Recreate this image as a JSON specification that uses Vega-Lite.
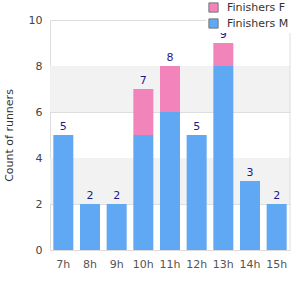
{
  "$schema": "https://vega.github.io/schema/vega-lite/v6.json",
  "width": 240,
  "height": 230,
  "autosize": {"type": "none"},
  "padding": {"left": 50, "top": 20, "right": 10, "bottom": 50},
  "background": "white",
  "config": {
    "view": {"stroke": null},
    "font": "DejaVu Sans",
    "axis": {"labelFont": "DejaVu Sans", "titleFont": "DejaVu Sans"}
  },
  "datasets": {
    "runners": [
      {"hour": "7h", "group": "Finishers M", "count": 5},
      {"hour": "8h", "group": "Finishers M", "count": 2},
      {"hour": "9h", "group": "Finishers M", "count": 2},
      {"hour": "10h", "group": "Finishers M", "count": 5},
      {"hour": "10h", "group": "Finishers F", "count": 2},
      {"hour": "11h", "group": "Finishers M", "count": 6},
      {"hour": "11h", "group": "Finishers F", "count": 2},
      {"hour": "12h", "group": "Finishers M", "count": 5},
      {"hour": "13h", "group": "Finishers M", "count": 8},
      {"hour": "13h", "group": "Finishers F", "count": 1},
      {"hour": "14h", "group": "Finishers M", "count": 3},
      {"hour": "15h", "group": "Finishers M", "count": 2}
    ],
    "totals": [
      {"hour": "7h", "total": 5},
      {"hour": "8h", "total": 2},
      {"hour": "9h", "total": 2},
      {"hour": "10h", "total": 7},
      {"hour": "11h", "total": 8},
      {"hour": "12h", "total": 5},
      {"hour": "13h", "total": 9},
      {"hour": "14h", "total": 3},
      {"hour": "15h", "total": 2}
    ],
    "bands": [
      {"lo": 2, "hi": 4},
      {"lo": 6, "hi": 8}
    ]
  },
  "layer": [
    {
      "data": {"name": "bands"},
      "mark": {"type": "rect", "color": "#f2f2f2"},
      "encoding": {
        "y": {"field": "lo", "type": "quantitative", "scale": {"domain": [0, 10]}},
        "y2": {"field": "hi"}
      }
    },
    {
      "data": {"name": "runners"},
      "mark": {"type": "bar"},
      "encoding": {
        "x": {
          "field": "hour", "type": "nominal",
          "sort": ["7h","8h","9h","10h","11h","12h","13h","14h","15h"],
          "scale": {"paddingInner": 0.25, "paddingOuter": 0.125},
          "axis": {"title": null, "labelAngle": 0, "labelColor": "#555", "labelFontSize": 11, "ticks": false, "domainColor": "#ddd", "labelPadding": 8}
        },
        "y": {
          "field": "count", "type": "quantitative", "aggregate": "sum", "stack": "zero",
          "scale": {"domain": [0, 10]},
          "axis": {"title": "Count of runners", "titleColor": "#333", "titleFontWeight": "normal", "titleFontSize": 11, "titlePadding": 14,
                   "values": [0,2,4,6,8,10], "labelColor": "#444", "labelFontSize": 11, "ticks": false, "labelPadding": 8,
                   "gridColor": "#ddd", "domainColor": "#ddd"}
        },
        "color": {
          "field": "group", "type": "nominal",
          "scale": {"domain": ["Finishers F", "Finishers M"], "range": ["#f383bb", "#60a8f4"]},
          "legend": {"title": null, "orient": "none", "legendX": 156, "legendY": -20, "fillColor": "white", "padding": 2,
                     "symbolType": "square", "symbolSize": 85, "symbolStrokeColor": "#777", "symbolStrokeWidth": 1, "symbolOpacity": 1,
                     "labelFontSize": 11, "labelColor": "#333", "rowPadding": 1, "labelOffset": 8}
        },
        "order": {"field": "group", "sort": "descending"}
      }
    },
    {
      "data": {"name": "totals"},
      "mark": {"type": "text", "color": "#1a1a8c", "baseline": "bottom", "dy": -3, "fontSize": 11},
      "encoding": {
        "x": {"field": "hour", "type": "nominal", "sort": ["7h","8h","9h","10h","11h","12h","13h","14h","15h"]},
        "y": {"field": "total", "type": "quantitative"},
        "text": {"field": "total", "type": "quantitative"}
      }
    },
    {
      "data": {"values": [{}]},
      "mark": {"type": "rule", "color": "#ddd"},
      "encoding": {"x": {"value": 240}, "y": {"value": 0}, "y2": {"value": 230}}
    }
  ]
}
